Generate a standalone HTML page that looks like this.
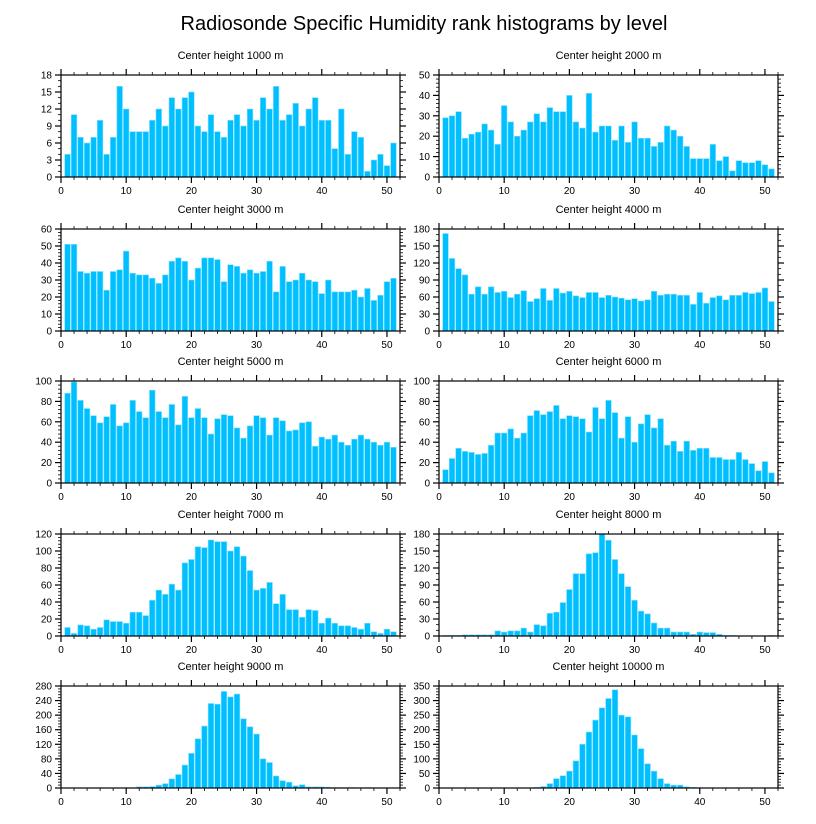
<!DOCTYPE html>
<html><head><meta charset="utf-8"><style>
body{margin:0;background:#fff;width:816px;height:824px;overflow:hidden}
svg{display:block}
text{font-family:"Liberation Sans",sans-serif;fill:#000}
</style></head><body>
<svg id="chart" width="816" height="824">
<text x="424" y="30" font-size="20" text-anchor="middle">Radiosonde Specific Humidity rank histograms by level</text>
</svg>
<script>
const levels = ["1000","2000","3000","4000","5000","6000","7000","8000","9000","10000"];
const yMax = [18,50,60,180,100,100,120,180,280,350];
const yStep = [3,10,10,30,20,20,20,30,40,50];
const v1000 = [4,11,7,6,7,10,4,7,16,12,8,8,8,10,12,9,14,12,14,15,9,8,11,8,7,10,11,9,12,10,14,12,16,10,11,13,9,12,14,10,10,5,12,4,8,7,1,3,4,2,6];
const v2000 = [29,30,32,19,21,22,26,23,16,35,27,20,23,27,31,27,34,32,32,40,27,24,41,22,25,25,18,25,17,27,19,19,15,17,25,23,20,15,9,9,9,16,8,10,3,8,7,7,8,6,4];
const v3000 = [51,51,35,34,35,35,24,35,36,47,34,33,33,31,28,33,41,43,41,30,37,43,43,42,29,39,38,34,36,34,35,41,23,38,29,30,34,30,29,22,30,23,23,23,24,20,25,18,21,29,31];
const v4000 = [172,128,110,99,65,78,65,78,68,70,59,65,71,52,57,75,54,75,67,70,62,59,68,68,59,63,60,58,55,57,53,55,70,63,65,65,63,63,47,68,49,59,62,55,63,63,68,66,68,76,52];
const v5000 = [88,99,81,73,66,59,65,77,56,59,81,70,64,91,70,64,77,57,85,64,73,64,48,63,67,66,54,44,56,66,64,47,64,61,51,52,59,60,36,45,43,47,40,37,43,47,43,40,37,40,35];
const v6000 = [13,24,34,31,30,28,29,37,49,49,53,44,49,66,71,67,70,76,63,66,65,63,50,74,63,81,69,44,65,40,58,67,54,63,37,41,31,41,32,34,34,25,25,23,23,30,23,19,12,21,10];
const v7000 = [10,3,13,12,8,10,19,17,17,15,28,28,24,42,54,49,61,54,86,90,105,104,113,111,111,100,105,94,77,54,56,63,38,49,31,31,22,31,30,15,21,15,12,12,10,8,15,5,3,8,5];
const v8000 = [1,1,1,2,2,2,2,2,9,7,9,9,14,7,20,18,40,42,59,82,110,110,145,147,180,169,135,110,87,63,44,39,23,14,14,7,7,7,3,7,6,6,3,1,1,0,0,0,0,0,1];
const v9000 = [0,0,0,0,0,0,0,0,0,0,0,3,3,4,8,12,25,37,63,95,135,170,232,230,265,250,258,190,168,148,80,70,33,20,16,6,9,3,3,3,2,1,1,1,1,0,1,0,0,0,0];
const v10000 = [0,0,0,0,0,0,0,0,0,0,0,0,0,0,2,5,15,32,42,58,93,150,192,233,275,307,337,250,244,182,135,83,58,32,15,10,10,4,2,1,0,0,0,0,0,0,0,0,0,0,0];
const series = [v1000,v2000,v3000,v4000,v5000,v6000,v7000,v8000,v9000,v10000];
const xTicks = [0,10,20,30,40,50];

const NS="http://www.w3.org/2000/svg";
const svg=document.getElementById('chart');
function mk(tag,attrs,parent){const e=document.createElementNS(NS,tag);for(const k in attrs)e.setAttribute(k,attrs[k]);(parent||svg).appendChild(e);return e;}
const colX=[61,439], W=339, H=102, rowY=[75,229,381,534,686];
series.forEach((vals,p)=>{
  const x0=colX[p%2], y0=rowY[Math.floor(p/2)];
  const g=mk('g',{});
  
  
  const xs=v=>x0+v/52*W, ys=v=>y0+H-v/yMax[p]*H;
  const t=mk('text',{x:x0+W/2,y:y0-16,'font-size':11,'text-anchor':'middle'},g);
  t.textContent='Center height '+levels[p]+' m';
  
  
  vals.forEach((v,i)=>{
    const c=i+1, bw=0.86/52*W;
    const r=mk('rect',{x:xs(c)-bw/2,y:ys(v),width:bw,height:Math.max(0,ys(0)-ys(v)),fill:'#00bfff',stroke:'#7fdfff','stroke-width':0.6},g);
    
    
  });
  const box=mk('rect',{x:x0,y:y0,width:W,height:H,fill:'none',stroke:'#000','stroke-width':1.2},g);
  
  
  // x ticks
  for(let v=0;v<=52;v+=2){
    const maj=v%10===0, L=maj?6:3;
    mk('line',{x1:xs(v),x2:xs(v),y1:y0+H,y2:y0+H+L,stroke:'#000','stroke-width':maj?1.2:0.8},g);
    mk('line',{x1:xs(v),x2:xs(v),y1:y0,y2:y0-L,stroke:'#000','stroke-width':maj?1.2:0.8},g);
  }
  xTicks.forEach(v=>{
    const tt=mk('text',{x:xs(v),y:y0+H+17,'font-size':10,'text-anchor':'middle'},g);
    tt.textContent=v;
    
    
  });
  // y ticks
  const minor=yStep[p]/ (yStep[p]%3===0?3:5);
  for(let k=0;k*minor<=yMax[p]+1e-6;k++){
    const v=k*minor, maj=Math.abs(v/yStep[p]-Math.round(v/yStep[p]))<1e-6, L=maj?6:3;
    mk('line',{x1:x0,x2:x0-L,y1:ys(v),y2:ys(v),stroke:'#000','stroke-width':maj?1.2:0.8},g);
    mk('line',{x1:x0+W,x2:x0+W+L,y1:ys(v),y2:ys(v),stroke:'#000','stroke-width':maj?1.2:0.8},g);
    if(maj){
      const tt=mk('text',{x:x0-9,y:ys(v)+3.5,'font-size':10,'text-anchor':'end'},g);
      tt.textContent=Math.round(v);
      
      
    }
  }
});
</script>
</body></html>
